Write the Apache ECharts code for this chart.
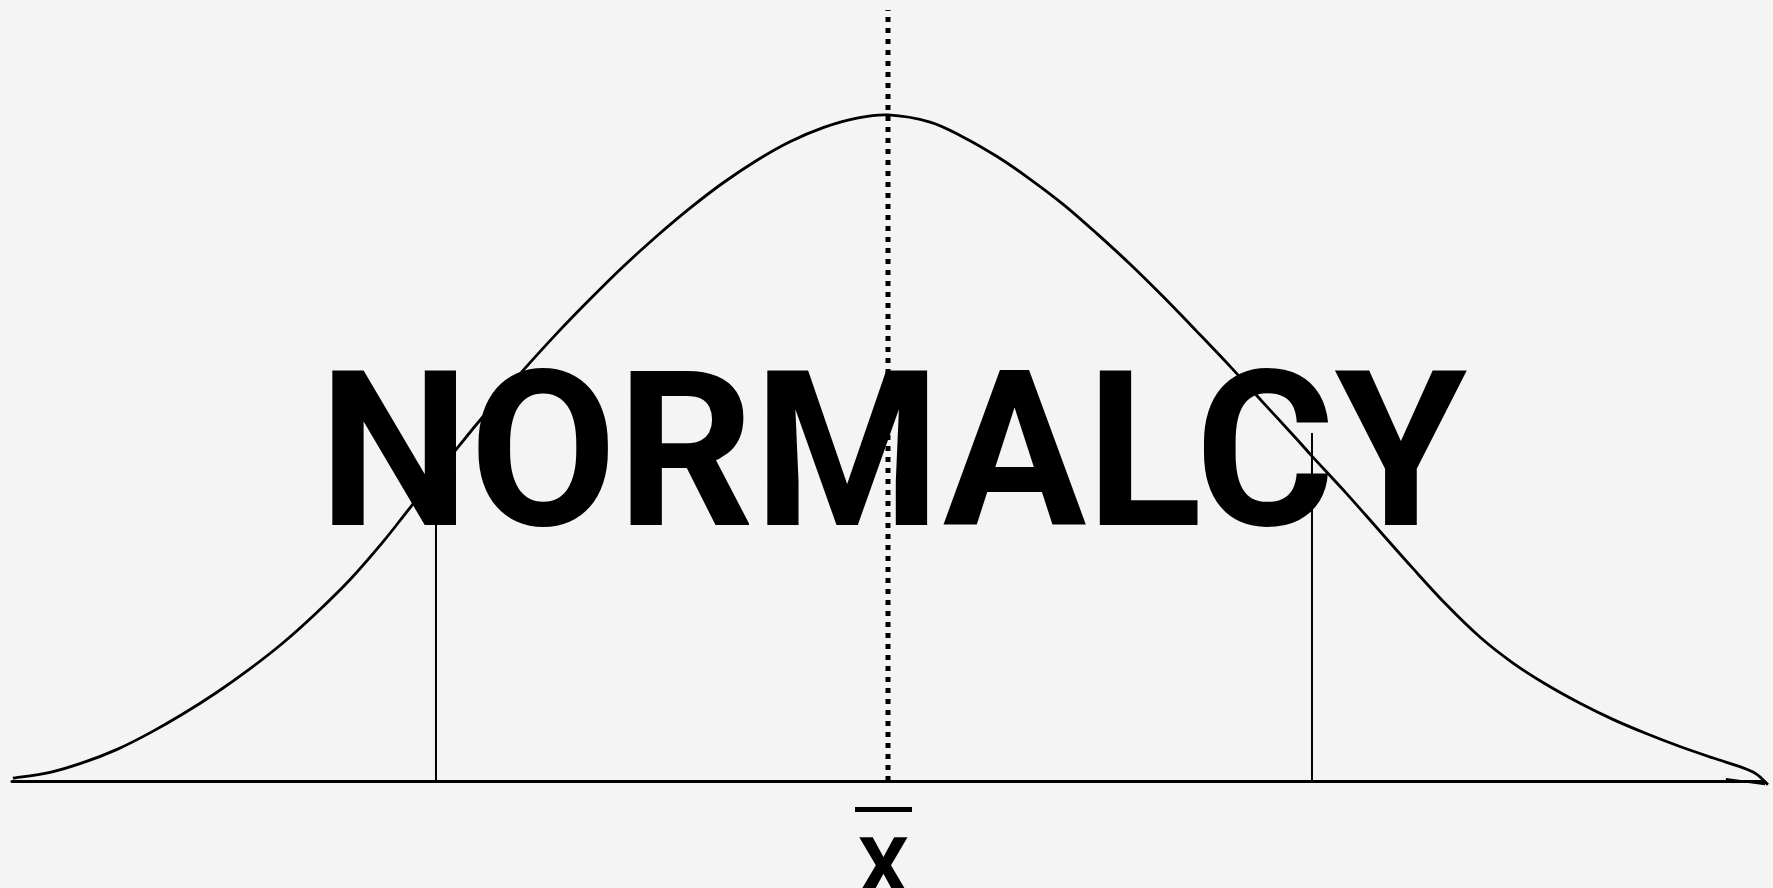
<!DOCTYPE html>
<html>
<head>
<meta charset="utf-8">
<title>Normalcy</title>
<script src="https://cdn.jsdelivr.net/npm/echarts@6/dist/echarts.min.js"></script>
<style>
	html, body { margin: 0; padding: 0; background: #f4f4f4; }
	#chart { width: 1773px; height: 888px; }
</style>
</head>
<body>
<div id="chart"></div>
<script>
// curve: x in sigma units from the mean, y as density
var curveX = [-1.998, -1.913, -1.838, -1.760, -1.685, -1.610, -1.532, -1.457, -1.381, -1.304, -1.228, -1.153, -1.091,
	-0.984, -0.909, -0.833, -0.756, -0.680, -0.605, -0.527, -0.452, -0.377, -0.299, -0.224, -0.148, -0.071, 0,
	0.096, 0.171, 0.249, 0.324, 0.400, 0.477, 0.553, 0.628, 0.705, 0.781, 0.856, 0.934, 0.970,
	1.046, 1.123, 1.199, 1.274, 1.352, 1.427, 1.502, 1.580, 1.655, 1.731, 1.808, 1.884, 1.945, 1.982, 2.009];
var curveY = [0.0017, 0.0052, 0.0110, 0.0190, 0.0289, 0.0402, 0.0533, 0.0673, 0.0830, 0.1012, 0.1210, 0.1436, 0.1642,
	0.1998, 0.2237, 0.2466, 0.2688, 0.2894, 0.3088, 0.3274, 0.3440, 0.3591, 0.3728, 0.3839, 0.3924, 0.3981, 0.4000,
	0.3957, 0.3868, 0.3750, 0.3615, 0.3463, 0.3287, 0.3103, 0.2909, 0.2700, 0.2490, 0.2274, 0.2051, 0.1945,
	0.1729, 0.1500, 0.1275, 0.1061, 0.0863, 0.0708, 0.0581, 0.0467, 0.0370, 0.0285, 0.0207, 0.0138, 0.0086, 0.0043, -0.0022];
// little hook at the right end of the pen line
var hookX = [2.009, 1.913];
var hookY = [-0.0022, 0.0012];
// the two vertical lines and their tops
var sigmaX = [-1.032, 0.968];
var sigmaTop = [0.2, 0.209];
// mean line
var meanX = 0;
var meanTop = 0.463;
var titleText = 'NORMALCY';
var meanLabel = 'X';

function pairs(xs, ys) {
	var out = [];
	for (var i = 0; i < xs.length; i++) out.push([xs[i], ys[i]]);
	return out;
}

var normalChart = {
	Init: function (id) {
		return echarts.init(document.getElementById(id), null, { renderer: 'canvas' });
	},
	Set: function (object, option) {
		object.setOption(option);
	}
};

var ink = '#000000';
var curveData = pairs(curveX, curveY);

// the whole curve as one catmull-rom path through the data points (mapped by the axes)
function renderCurve(params, api) {
	if (params.dataIndex !== 0) return;
	var p = curveData.map(function (d) { return api.coord(d); });
	var d = 'M' + p[0][0] + ' ' + p[0][1];
	for (var i = 0; i < p.length - 1; i++) {
		var p0 = p[Math.max(i - 1, 0)], p1 = p[i], p2 = p[i + 1], p3 = p[Math.min(i + 2, p.length - 1)];
		var c1x = p1[0] + (p2[0] - p0[0]) / 6, c1y = p1[1] + (p2[1] - p0[1]) / 6;
		var c2x = p2[0] - (p3[0] - p1[0]) / 6, c2y = p2[1] - (p3[1] - p1[1]) / 6;
		d += ' C' + c1x + ' ' + c1y + ' ' + c2x + ' ' + c2y + ' ' + p2[0] + ' ' + p2[1];
	}
	return {
		type: 'path',
		shape: { pathData: d },
		style: { stroke: ink, fill: 'none', lineWidth: 2.8, lineJoin: 'round' }
	};
}

var series = [
	{
		type: 'custom', data: curveData, renderItem: renderCurve, clip: false, z: 3,
		encode: { x: 0, y: 1 }
	},
	{
		type: 'line', data: pairs(hookX, hookY), symbol: 'none', clip: false,
		lineStyle: { color: ink, width: 2 }, z: 3
	},
	{
		type: 'line', data: [[meanX, 0], [meanX, meanTop]], symbol: 'none',
		lineStyle: { color: ink, width: 5, type: [5, 6], cap: 'butt' }, z: 2
	}
];
sigmaX.forEach(function (x, i) {
	series.push({
		type: 'line', data: [[x, 0], [x, sigmaTop[i]]], symbol: 'none',
		lineStyle: { color: ink, width: 2 }, z: 2
	});
});

var option = {
	backgroundColor: '#f4f4f4',
	animation: false,
	grid: { left: 12, right: 9, top: 0, bottom: 107, containLabel: false, outerBoundsMode: 'none' },
	xAxis: {
		type: 'value', min: -2, max: 2, interval: 1,
		axisLine: { show: true, lineStyle: { color: ink, width: 3 } },
		axisTick: { show: false },
		splitLine: { show: false },
		axisLabel: {
			margin: 26,
			padding: [0, 9, 0, 0],
			formatter: function (v) {
				return v === meanX ? '{bar|}\n{x|' + meanLabel + '}' : '';
			},
			rich: {
				bar: { width: 57, height: 5, backgroundColor: ink },
				x: { fontFamily: 'Roboto', fontWeight: 'bold', fontSize: 80, color: ink, lineHeight: 124 }
			}
		}
	},
	yAxis: { type: 'value', min: 0, max: 0.469, show: false },
	graphic: [{
		type: 'text', x: 893, y: 470, z: 10, scaleX: 0.98,
		style: {
			text: titleText, fill: ink,
			fontFamily: 'Roboto', fontWeight: 'bold', fontSize: 218,
			align: 'center', verticalAlign: 'middle'
		}
	}],
	series: series
};

var chart = normalChart.Init('chart');
normalChart.Set(chart, option);
</script>
</body>
</html>
